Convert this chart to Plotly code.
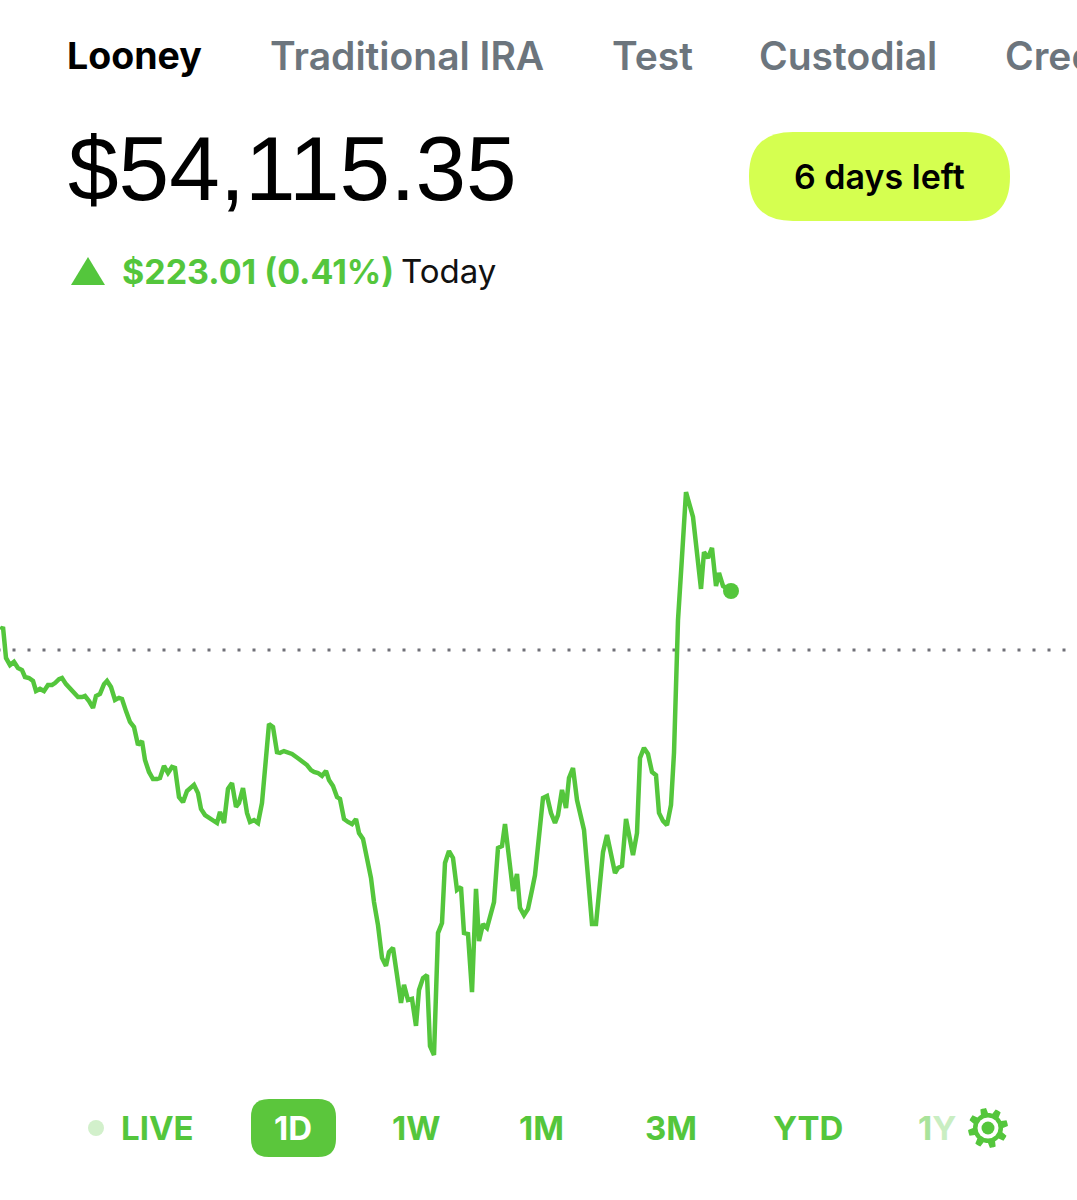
import numpy as np
import plotly.graph_objects as go

WIDTH = 1077
HEIGHT = 1200
GREEN = '#54c63c'
GREY = '#6c757d'
FONT = 'Inter'

tabs = ['Looney', 'Traditional IRA', 'Test', 'Custodial', 'Credit']
balance = '$54,115.35'
gain_label = '$223.01 (0.41%)'
periods = ['LIVE', '1D', '1W', '1M', '3M', 'YTD']

# minutes into the session and dollars above/below the previous close
minutes = [1, 3, 6, 10, 14, 18, 22, 25, 29, 33, 36, 40, 44, 48, 52, 55, 59, 62, 66, 70,
           73, 78, 82, 85, 89, 93, 96, 100, 104, 107, 111, 115, 119, 122, 126, 130, 134, 138, 142, 145,
           149, 153, 157, 160, 164, 168, 172, 175, 179, 183, 187, 194, 198, 201, 205, 213, 217, 220, 224, 228,
           232, 236, 239, 243, 247, 250, 254, 258, 262, 269, 273, 277, 280, 284, 292, 299, 307, 311, 314, 318,
           322, 326, 329, 333, 337, 340, 344, 348, 352, 356, 359, 363, 367, 371, 374, 378, 382, 386, 389, 393,
           397, 401, 404, 408, 412, 416, 419, 423, 427, 430, 434, 438, 442, 445, 449, 453, 457, 461, 464, 468,
           472, 476, 479, 483, 487, 494, 498, 502, 505, 513, 517, 520, 524, 528, 532, 535, 543, 547, 551, 555,
           558, 562, 566, 569, 573, 577, 584, 592, 596, 600, 603, 607, 611, 615, 618, 622, 626, 630, 633, 637,
           640, 644, 648, 652, 656, 659, 663, 667, 671, 674, 677, 678, 682, 686, 693, 697, 701, 704, 708, 712,
           716, 719, 723, 731]
day_change = [76, 87, -30, -57, -45, -68, -76, -102, -106, -117, -155, -147, -155, -132, -132, -125, -110, -106, -129, -147,
              -155, -178, -178, -174, -193, -219, -174, -166, -129, -117, -140, -189, -181, -185, -231, -272, -291, -359, -344, -416,
              -461, -488, -488, -484, -438, -465, -442, -446, -556, -575, -533, -510, -541, -601, -624, -643, -654, -612, -654, -525,
              -503, -593, -578, -522, -616, -650, -643, -654, -578, -280, -291, -386, -389, -382, -393, -412, -435, -454, -461, -465,
              -476, -457, -491, -514, -556, -563, -639, -650, -658, -639, -692, -714, -794, -862, -953, -1040, -1164, -1194, -1142, -1126,
              -1229, -1334, -1266, -1323, -1319, -1421, -1285, -1240, -1229, -1497, -1531, -1070, -1032, -805, -760, -786, -907, -896, -1070, -1074,
              -1293, -903, -1100, -1036, -1051, -953, -748, -741, -658, -911, -847, -975, -1002, -979, -907, -851, -559, -552, -616, -654,
              -624, -529, -597, -484, -446, -567, -680, -1036, -1036, -858, -764, -699, -767, -843, -824, -816, -639, -707, -775, -692,
              -408, -370, -393, -461, -473, -616, -646, -662, -586, -389, 0, 113, 352, 597, 503, 352, 231, 370, 348, 386,
              242, 291, 242, 223]


def px(x, y):
    # page pixels to paper coordinates
    return x / WIDTH, 1 - y / HEIGHT


def rounded_box(x0, y0, x1, y1, r):
    pts = [(x0 + r, y0), (x1 - r, y0), (x1, y0), (x1, y0 + r), (x1, y1 - r), (x1, y1),
           (x1 - r, y1), (x0 + r, y1), (x0, y1), (x0, y1 - r), (x0, y0 + r), (x0, y0), (x0 + r, y0)]
    p = ['%.5f %.5f' % px(*q) for q in pts]
    return ('M ' + p[0] + ' L ' + p[1] + ' Q ' + p[2] + ' ' + p[3] + ' L ' + p[4] + ' Q ' + p[5] + ' ' + p[6]
            + ' L ' + p[7] + ' Q ' + p[8] + ' ' + p[9] + ' L ' + p[10] + ' Q ' + p[11] + ' ' + p[12] + ' Z')


def label(x, y, text, size, color, weight=400, anchor='left', font=FONT):
    ax, ay = px(x, y)
    fig.add_annotation(x=ax, y=ay, xref='paper', yref='paper', text=text, showarrow=False,
                       xanchor=anchor, yanchor='middle', align='left', borderpad=0, borderwidth=0,
                       font=dict(family=font, size=size, color=color, weight=weight))


def dot(cx, cy, r, color):
    x0, y0 = px(cx - r, cy + r)
    x1, y1 = px(cx + r, cy - r)
    fig.add_shape(type='circle', xref='paper', yref='paper', x0=x0, y0=y0, x1=x1, y1=y1,
                  fillcolor=color, line_width=0)


def path(d, color):
    fig.add_shape(type='path', xref='paper', yref='paper', path=d, fillcolor=color, line_width=0)


fig = go.Figure()
fig.add_shape(type='line', xref='x', yref='y', x0=-2.5, x1=WIDTH, y0=0, y1=0, layer='below',
              line=dict(color='#6f6f77', width=3, dash='3px,12px'))
fig.add_trace(go.Scatter(x=minutes, y=day_change, mode='lines', hoverinfo='skip',
                         line=dict(color=GREEN, width=4.5, shape='linear')))
fig.add_trace(go.Scatter(x=minutes[-1:], y=day_change[-1:], mode='markers', hoverinfo='skip',
                         marker=dict(color=GREEN, size=16)))

# account tabs
tab_x = [67, 270, 612, 759, 1005]
for i, name in enumerate(tabs):
    if i == 0:
        label(tab_x[i], 56, name, 37.5, 'black', 700)
    else:
        label(tab_x[i], 56, name, 39, GREY, 600)

# balance and pill
label(68, 168, balance, 91, 'black', font='Liberation Sans')
path(rounded_box(749, 132, 1010, 221, 44), '#d5ff50')
label(879, 177, '6 days left', 34, 'black', 600, 'center')

# today's gain
tx0, ty0 = px(71, 285)
tx1, ty1 = px(105, 285)
tx2, ty2 = px(88, 257)
path('M %.5f %.5f L %.5f %.5f L %.5f %.5f Z' % (tx0, ty0, tx1, ty1, tx2, ty2), GREEN)
label(122, 271, gain_label, 34, GREEN, 700)
label(401, 271, 'Today', 33, '#111111')

# period selector
dot(96, 1128, 8, '#d2f0cb')
path(rounded_box(251, 1099, 336, 1157, 18), '#5bc63c')
period_x = [157, 293, 416, 541, 671, 808]
for i, name in enumerate(periods):
    label(period_x[i], 1128, name, 33, 'white' if name == '1D' else GREEN, 700, 'center')
label(937, 1128, '<span style="color:#a9e39b">1</span><span style="color:#c9eec2">Y</span>',
      33, '#c9eec2', 700, 'center')

# settings gear
angles = np.linspace(0, 2 * np.pi, 64, endpoint=False) + np.pi / 8 / 2
radii = [20 if (i % 8) < 4 else 15 for i in range(64)]
gear_pts = [px(988 + r * np.sin(a + np.pi / 16), 1128 - r * np.cos(a + np.pi / 16)) for r, a in zip(radii, angles)]
path('M ' + ' L '.join('%.5f %.5f' % q for q in gear_pts) + ' Z', GREEN)
dot(988, 1128, 10.5, 'white')
dot(988, 1128, 6.5, GREEN)

fig.update_xaxes(visible=False, range=[0, WIDTH], fixedrange=True)
fig.update_yaxes(visible=False, range=[-2079, 2457], fixedrange=True)
fig.update_layout(width=WIDTH, height=HEIGHT, margin=dict(l=0, r=0, t=0, b=0), showlegend=False,
                  plot_bgcolor='white', paper_bgcolor='white')
fig.write_html("out.html", config=dict(displayModeBar=False),
               post_script="document.body.style.margin='0';document.body.style.overflow='hidden';")
